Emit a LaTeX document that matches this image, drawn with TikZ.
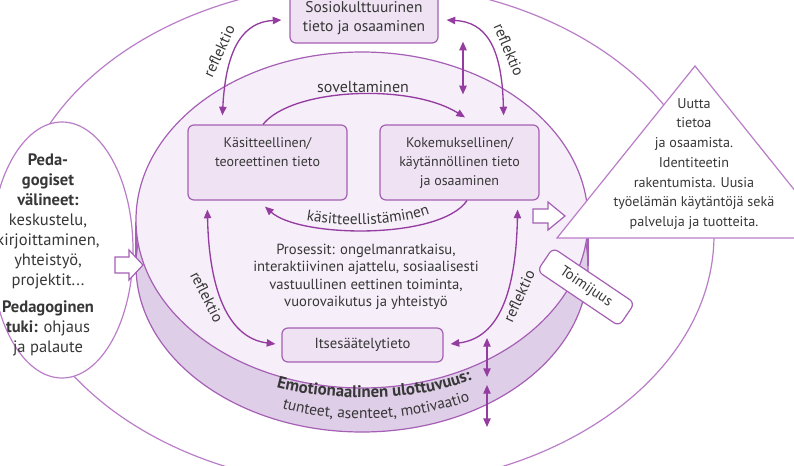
\documentclass[tikz,border=0pt]{standalone}
\usepackage{fontspec}
\setmainfont{PT Sans}
\usetikzlibrary{arrows.meta,decorations.text,calc}
\definecolor{arr}{RGB}{148,60,160}
\definecolor{outl}{RGB}{186,125,200}
\definecolor{boxb}{RGB}{165,95,180}
\definecolor{boxf}{RGB}{238,226,243}
\definecolor{topf}{RGB}{246,239,249}
\definecolor{sidef}{RGB}{223,206,231}
\definecolor{txt}{RGB}{55,55,55}
\newcommand\emofnt{\fontsize{12.6}{14}\selectfont\bfseries\color{txt}}
\newcommand\emofntb{\fontsize{11.6}{13}\selectfont\color{txt}}
\newcommand\kasfnt{\fontsize{11.5}{13}\selectfont\color{txt}}
\begin{document}
\begin{tikzpicture}[x=0.75pt,y=-0.75pt,
  every node/.style={text=txt,font=\fontsize{10.5}{14.25}\selectfont},
  kbox/.style={draw=boxb,fill=boxf,line width=0.9pt,rounded corners=4.5pt,inner sep=0pt},
  tip/.tip={Triangle[length=6.5pt,width=5.5pt]},
  arrw/.style={draw=arr,line width=1pt,-tip},
  dblarrw/.style={draw=arr,line width=1pt,tip-tip},
  thin/.style={draw=outl,line width=0.9pt},
  hollow/.style={draw=boxb,fill=white,line width=0.9pt,line join=miter},
  refl/.style={font=\fontsize{11.5}{13}\selectfont,inner sep=1pt}
]
\useasboundingbox (0,0) rectangle (794,465);
\clip (0,0) rectangle (794,465);
\fill[white] (0,0) rectangle (794,465);

% big outer ellipse
\draw[thin] (364,235) ellipse [x radius=262.5pt, y radius=189pt];
% left ellipse
\filldraw[thin,fill=white] (62,250) ellipse [x radius=53.25pt, y radius=96pt];

% disc
\fill[sidef] (136,222) rectangle (588,266);
\filldraw[fill=sidef,draw=boxb,line width=0.9pt] (362,266) ellipse [x radius=169.5pt, y radius=124.5pt];
\draw[boxb,line width=0.9pt] (136,222) -- (136,266) (588,222) -- (588,266);
\filldraw[fill=topf,draw=boxb,line width=0.9pt] (362,220) ellipse [x radius=169.5pt, y radius=126pt];

% triangle
\filldraw[thin,fill=white] (695,66) -- (557,238) -- (833,238) -- cycle;
\node[align=center,font=\fontsize{10.6}{14.8}\selectfont] (tri) at (694,164)
  {Uutta\\tietoa\\ja osaamista.\\Identiteetin\\rakentumista. Uusia\\työelämän käytäntöjä sekä\\palveluja ja tuotteita.};

% Toimijuus
\node[draw=boxb,fill=white,line width=0.9pt,rounded corners=4.5pt,rotate=-34,
      minimum width=74pt,minimum height=21pt,font=\fontsize{11}{13}\selectfont] (toim) at (586,287) {Toimijuus};

% hollow arrows
\draw[hollow] (115,257) -- (129,257) -- (129,250) -- (143,265) -- (129,280) -- (129,273) -- (115,273) -- cycle;
\draw[hollow] (533,209) -- (548,209) -- (548,202) -- (565,216) -- (548,230) -- (548,223) -- (533,223) -- cycle;

% boxes
\node[kbox,minimum width=111pt,minimum height=37.5pt,align=center,font=\fontsize{11.6}{14.25}\selectfont] (sos) at (364,18) {Sosiokulttuurinen\\tieto ja osaaminen};
\node[kbox,minimum width=119.25pt,minimum height=56.25pt] (kas) at (267.5,162.5) {};
\node[align=center] (kast) at (267.5,152) {Käsitteellinen/\\teoreettinen tieto};
\node[kbox,minimum width=119.25pt,minimum height=56.25pt,align=center] (kok) at (459.5,162.5) {Kokemuksellinen/\\käytännöllinen tieto\\ja osaaminen};
\node[kbox,minimum width=120.75pt,minimum height=25.5pt,font=\fontsize{11}{13}\selectfont] (its) at (362.5,345) {Itsesäätelytieto};

% process text
\node[align=center,font=\fontsize{11}{13}\selectfont] (proc) at (366,277)
  {Prosessit: ongelmanratkaisu,\\interaktiivinen ajattelu, sosiaalisesti\\vastuullinen eettinen toiminta,\\vuorovaikutus ja yhteistyö};

% left ellipse text
\node[align=center,font=\fontsize{12.4}{15}\selectfont] (ped) at (48,255)
  {\bfseries Peda-\\\bfseries gogiset\\\bfseries välineet:\\keskustelu,\\kirjoittaminen,\\yhteistyö,\\projektit...\\[5pt]\bfseries Pedagoginen\\{\bfseries tuki:} ohjaus\\ja palaute};

% connectors
\coordinate (r1a) at ($(sos.west)+(-8,2)$);
\coordinate (r1b) at ($(kas.north west)+(35,-9)$);
\draw[dblarrw] (r1a) .. controls (245,22) and (226,45) .. (r1b);
\coordinate (r2a) at ($(sos.east)+(8,2)$);
\coordinate (r2b) at ($(kok.north east)+(-36,-9)$);
\draw[dblarrw] (r2a) .. controls (485,22) and (502,45) .. (r2b);
\coordinate (v1a) at ($(sos.south)+(99,-2)$);
\coordinate (v1b) at ($(kok.north)+(3.5,-30)$);
\draw[dblarrw] (v1a) -- (v1b);
\coordinate (sova) at ($(kas.north)+(-4.5,0)$);
\coordinate (sovb) at ($(kok.north)+(5.5,-7)$);
\draw[arrw] (sova) .. controls (292,88) and (410,83) .. (sovb);
\node[font=\fontsize{12}{14}\selectfont] (sovt) at (363,87) {soveltaminen};
\coordinate (kaa) at ($(kok.south)+(7.5,0)$);
\coordinate (kab) at ($(kas.south)+(-2.5,6)$);
\draw[arrw] (kaa) .. controls (440,240) and (300,238) .. (kab);
\path[decorate,decoration={text along path,text align=center,
   text={|\kasfnt|käsitteellistäminen}}]
   (298,219) .. controls (340,228) and (400,227) .. (438,211);
\coordinate (r3a) at ($(kas.south west)+(20,9)$);
\coordinate (r3b) at ($(its.west)+(-6,-1)$);
\draw[dblarrw] (r3a) .. controls (209,290) and (228,338) .. (r3b);
\coordinate (r4a) at ($(kok.south east)+(-22,9)$);
\coordinate (r4b) at ($(its.east)+(7,-1)$);
\draw[dblarrw] (r4a) .. controls (516,290) and (500,338) .. (r4b);
\node[refl,rotate=65] (l1) at (219,51) {reflektio};
\node[refl,rotate=-67] (l2) at (509,50) {reflektio};
\node[refl,rotate=-63] (l3) at (207,297) {reflektio};
\node[refl,rotate=65] (l4) at (519,296) {reflektio};

% emotional dimension
\coordinate (e1a) at (487,338);
\coordinate (e1b) at (487,377);
\coordinate (e2a) at (487,385);
\coordinate (e2b) at (487,427);
\draw[dblarrw] (e1a) -- (e1b);
\draw[dblarrw] (e2a) -- (e2b);
\path[decorate,decoration={text along path,text align=center,
   text={|\emofnt|Emotionaalinen ulottuvuus:}}]
   (266,384) .. controls (320,402) and (420,405) .. (482,375);
\path[decorate,decoration={text along path,text align=center,
   text={|\emofntb|tunteet, asenteet, motivaatio}}]
   (270,404) .. controls (320,424) and (410,426) .. (482,396);
\end{tikzpicture}
\end{document}
